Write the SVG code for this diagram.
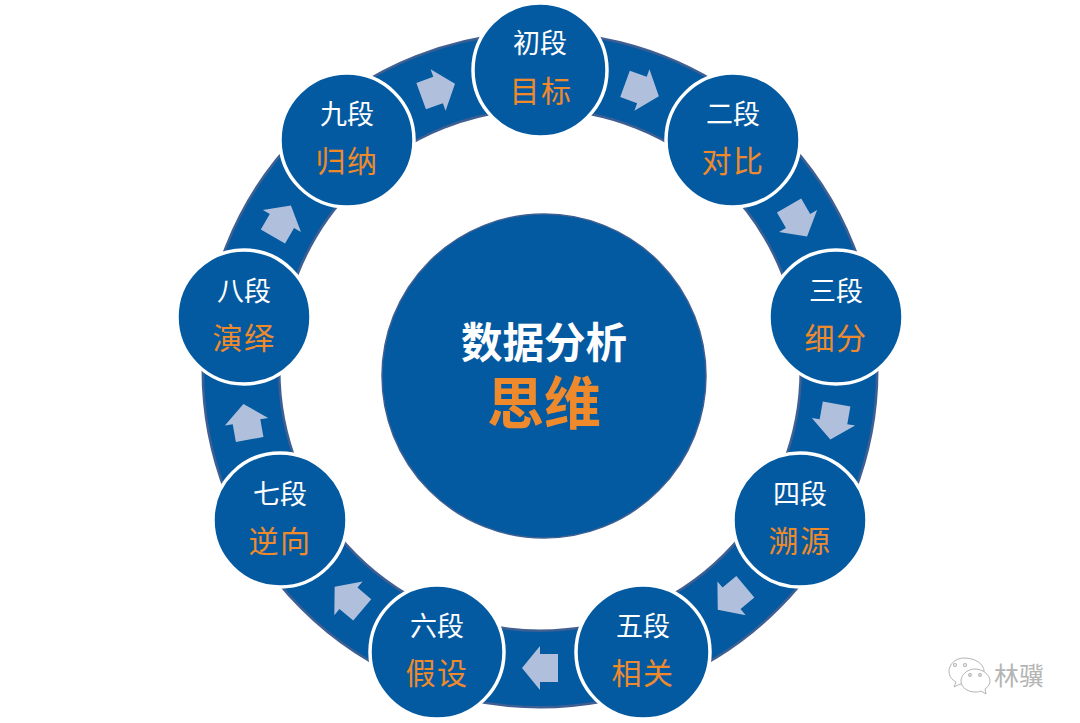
<svg xmlns="http://www.w3.org/2000/svg" width="1080" height="723" viewBox="0 0 1080 723">
<style>
text{font-family:"Noto Sans CJK SC","Noto Sans",sans-serif;text-anchor:middle}
.n{fill:#045aa1;stroke:#fff;stroke-width:3.5}
.t{font-size:27px;fill:#fff}
.o{font-size:30px;fill:#ee8a2c;letter-spacing:1.5px}
.a{fill:#b0c0dc}
.w{fill:#fff;stroke:#b4b4b4;stroke-width:1}
.e{fill:none;stroke:#b4b4b4;stroke-width:1.2}
</style>
<defs><polygon id="ar" points="18,0 0,-22 0,-14 -18,-14 -18,14 0,14 0,22"/></defs>
<rect width="1080" height="723" fill="#fff"/>
<g id="connectors">
<circle id="ring" cx="540" cy="370" r="299" fill="none" stroke="#3f5f92" stroke-width="79"/>
<circle cx="540" cy="370" r="299" fill="none" stroke="#045aa1" stroke-width="74"/>
<g class="a">
<use href="#ar" transform="rotate(20 540 370) translate(540 72)"/>
<use href="#ar" transform="rotate(60 540 370) translate(540 72)"/>
<use href="#ar" transform="rotate(100 540 370) translate(540 72)"/>
<use href="#ar" transform="rotate(140 540 370) translate(540 72)"/>
<use href="#ar" transform="rotate(180 540 370) translate(540 72)"/>
<use href="#ar" transform="rotate(220 540 370) translate(540 72)"/>
<use href="#ar" transform="rotate(260 540 370) translate(540 72)"/>
<use href="#ar" transform="rotate(300 540 370) translate(540 72)"/>
<use href="#ar" transform="rotate(340 540 370) translate(540 72)"/>
</g>
</g>
<g id="center"><circle cx="544" cy="376" r="162" fill="#045aa1" stroke="#3f5f92" stroke-width="1.5"/>
<text x="544" y="358" font-size="41.5" font-weight="700" fill="#fff">数据分析</text>
<text x="544" y="424" font-size="57" font-weight="700" fill="#ee8a2c">思维</text></g>
<g id="n1"><circle class="n" cx="540" cy="70" r="67"/><text class="t" x="540" y="53">初段</text><text class="o" x="541" y="102">目标</text></g>
<g id="n2"><circle class="n" cx="733" cy="140" r="67"/><text class="t" x="733" y="124">二段</text><text class="o" x="733" y="172">对比</text></g>
<g id="n3"><circle class="n" cx="836" cy="317" r="67"/><text class="t" x="836" y="301">三段</text><text class="o" x="836" y="349">细分</text></g>
<g id="n4"><circle class="n" cx="800" cy="520" r="67"/><text class="t" x="800" y="504">四段</text><text class="o" x="800" y="552">溯源</text></g>
<g id="n5"><circle class="n" cx="643" cy="652" r="67"/><text class="t" x="643" y="636">五段</text><text class="o" x="643" y="684">相关</text></g>
<g id="n6"><circle class="n" cx="437" cy="652" r="67"/><text class="t" x="437" y="636">六段</text><text class="o" x="437" y="684">假设</text></g>
<g id="n7"><circle class="n" cx="280" cy="520" r="67"/><text class="t" x="280" y="504">七段</text><text class="o" x="280" y="552">逆向</text></g>
<g id="n8"><circle class="n" cx="244" cy="317" r="67"/><text class="t" x="244" y="301">八段</text><text class="o" x="244" y="349">演绎</text></g>
<g id="n9"><circle class="n" cx="347" cy="140" r="67"/><text class="t" x="347" y="124">九段</text><text class="o" x="347" y="172">归纳</text></g>
<g id="watermark">
<path class="w" d="M964 658c-8 0-15 6-15 13 0 5 3 9 7 11l-2 5 6-3c4 1 9 1 13-1 6-2 11-7 11-12 0-7-9-13-20-13z"/>
<path class="w" d="M975 669c-8 0-14 6-14 12s6 11 14 11c2 0 4 0 6-1l5 3-1-5c3-2 5-5 5-8 0-6-7-12-15-12z"/>
<circle class="e" cx="955" cy="665" r="1.5"/><circle class="e" cx="965" cy="665" r="1.5"/>
<circle class="e" cx="970" cy="675" r="1.3"/><circle class="e" cx="980" cy="675" r="1.3"/>
<text x="1019" y="685" font-size="25" fill="#b4b4b4">林骥</text>
</g>
</svg>
